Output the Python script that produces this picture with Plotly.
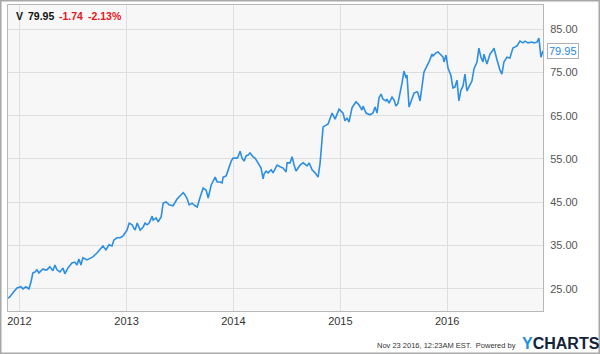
import pandas as pd
import plotly.graph_objects as go

# Decimal-year time stamps and V closing prices
years = [2011.883, 2011.911, 2011.939, 2011.977, 2012.014, 2012.033, 2012.061, 2012.089, 2012.108, 2012.126,
         2012.145, 2012.164, 2012.182, 2012.201, 2012.220, 2012.238, 2012.257, 2012.285, 2012.313, 2012.332,
         2012.351, 2012.379, 2012.407, 2012.425, 2012.453, 2012.491, 2012.519, 2012.538, 2012.556, 2012.575,
         2012.594, 2012.631, 2012.650, 2012.687, 2012.725, 2012.753, 2012.781, 2012.809, 2012.837, 2012.865,
         2012.884, 2012.912, 2012.940, 2012.968, 2013.005, 2013.024, 2013.052, 2013.061, 2013.080, 2013.099,
         2013.127, 2013.155, 2013.173, 2013.192, 2013.211, 2013.239, 2013.248, 2013.276, 2013.295, 2013.323,
         2013.342, 2013.370, 2013.398, 2013.435, 2013.454, 2013.473, 2013.501, 2013.529, 2013.547, 2013.566,
         2013.585, 2013.613, 2013.641, 2013.660, 2013.688, 2013.716, 2013.744, 2013.763, 2013.791, 2013.809,
         2013.828, 2013.847, 2013.875, 2013.893, 2013.903, 2013.931, 2013.950, 2013.978, 2013.996, 2014.034,
         2014.043, 2014.062, 2014.080, 2014.099, 2014.118, 2014.137, 2014.155, 2014.183, 2014.202, 2014.221,
         2014.239, 2014.258, 2014.277, 2014.286, 2014.305, 2014.324, 2014.352, 2014.370, 2014.389, 2014.408,
         2014.436, 2014.464, 2014.492, 2014.501, 2014.529, 2014.548, 2014.567, 2014.585, 2014.604, 2014.623,
         2014.651, 2014.688, 2014.707, 2014.735, 2014.763, 2014.791, 2014.810, 2014.838, 2014.885, 2014.922,
         2014.950, 2014.987, 2015.025, 2015.043, 2015.062, 2015.081, 2015.109, 2015.146, 2015.174, 2015.202,
         2015.212, 2015.240, 2015.277, 2015.305, 2015.324, 2015.343, 2015.361, 2015.380, 2015.399, 2015.427,
         2015.436, 2015.455, 2015.483, 2015.502, 2015.520, 2015.539, 2015.576, 2015.586, 2015.595, 2015.614,
         2015.623, 2015.642, 2015.670, 2015.689, 2015.717, 2015.726, 2015.745, 2015.763, 2015.782, 2015.810,
         2015.829, 2015.857, 2015.866, 2015.894, 2015.913, 2015.941, 2015.960, 2015.969, 2015.988, 2016.007,
         2016.035, 2016.053, 2016.072, 2016.091, 2016.109, 2016.128, 2016.147, 2016.166, 2016.184, 2016.212,
         2016.231, 2016.250, 2016.278, 2016.296, 2016.315, 2016.334, 2016.343, 2016.371, 2016.399, 2016.427,
         2016.437, 2016.465, 2016.493, 2016.511, 2016.530, 2016.558, 2016.586, 2016.614, 2016.652, 2016.680,
         2016.708, 2016.727, 2016.755, 2016.792, 2016.811, 2016.839, 2016.857, 2016.876, 2016.895]
prices = [22.7, 23.2, 24.1, 25.2, 25.5, 25.0, 25.5, 25.0, 26.6, 28.7,
          28.9, 29.4, 28.7, 29.2, 29.6, 29.4, 29.4, 30.1, 29.2, 30.5,
          29.4, 28.9, 29.8, 28.5, 29.8, 31.0, 31.2, 30.5, 31.9, 30.5,
          32.2, 31.7, 31.9, 32.4, 33.3, 34.0, 34.9, 34.0, 35.2, 34.9,
          36.3, 36.8, 36.8, 37.2, 38.6, 40.2, 39.8, 39.3, 38.6, 40.2,
          38.6, 39.3, 40.2, 39.8, 40.2, 41.8, 40.9, 41.4, 40.5, 41.6,
          44.8, 45.1, 44.4, 44.2, 45.1, 45.8, 46.5, 47.2, 46.7, 45.8,
          44.4, 44.8, 44.2, 43.9, 46.2, 48.3, 47.8, 46.0, 49.0, 49.9,
          50.8, 49.7, 49.7, 49.5, 50.8, 51.1, 52.5, 54.5, 55.2, 55.2,
          55.5, 56.8, 55.2, 54.5, 55.7, 55.9, 56.4, 55.5, 55.2, 54.3,
          53.6, 52.9, 50.4, 51.5, 52.2, 51.8, 52.5, 51.8, 52.7, 53.6,
          53.2, 52.9, 52.0, 54.1, 54.1, 55.5, 53.6, 52.2, 52.9, 53.6,
          54.1, 53.4, 54.1, 52.5, 51.8, 50.8, 54.1, 62.4, 63.1, 65.6,
          64.2, 66.5, 65.6, 63.8, 64.5, 63.5, 66.8, 68.2, 67.5, 66.3,
          67.2, 65.6, 65.2, 65.6, 67.0, 65.6, 69.1, 70.0, 68.8, 68.4,
          68.8, 67.9, 69.3, 68.6, 67.2, 67.9, 72.5, 74.8, 75.3, 73.7,
          74.4, 67.0, 69.1, 70.2, 70.5, 70.2, 68.4, 72.1, 75.1, 76.5,
          77.4, 79.2, 78.8, 79.5, 79.7, 79.0, 78.5, 77.4, 79.0, 76.0,
          74.2, 71.4, 71.6, 73.2, 68.4, 70.9, 71.8, 74.6, 70.7, 72.1,
          73.0, 75.8, 77.4, 80.6, 78.5, 77.4, 79.2, 76.9, 79.2, 80.1,
          80.6, 77.9, 75.5, 74.6, 77.4, 78.5, 78.3, 80.6, 81.1, 82.2,
          81.8, 82.2, 81.8, 82.0, 81.8, 82.0, 82.9, 78.5, 79.95]

y_ticks = [25, 35, 45, 55, 65, 75, 85]
x_ticks = ["2012-01-01", "2013-01-01", "2014-01-01", "2015-01-01", "2016-01-01"]
x_labels = ["2012", "2013", "2014", "2015", "2016"]
ticker = "V"
last_price = 79.95
change = -1.74
change_pct = -2.13
stamp = "Nov 23 2016, 12:23AM EST."


def to_date(y):
    base = pd.Timestamp(year=int(y), month=1, day=1)
    return base + pd.Timedelta(days=(y - int(y)) * 365.25)


dates = [to_date(y) for y in years]

W, H = 600, 354
ML, MR, MT, MB = 8, 57, 5, 43
LINE = "#2d8fe3"
FONT = "Liberation Sans, Arial, sans-serif"
pw = W - ML - MR
ph = H - MT - MB

fig = go.Figure()
fig.add_trace(go.Scatter(x=dates, y=prices, mode="lines",
                         line=dict(color=LINE, width=1.6), hoverinfo="skip"))

fig.update_layout(
    width=W, height=H,
    margin=dict(l=ML, r=MR, t=MT, b=MB),
    paper_bgcolor="white", plot_bgcolor="#f7f7f7",
    showlegend=False,
    font=dict(family=FONT, size=11, color="#444"),
    xaxis=dict(type="date", range=["2011-11-23", "2016-11-23"],
               tickvals=x_ticks, ticktext=x_labels,
               showgrid=True, gridcolor="#dedede", gridwidth=1,
               showline=True, mirror=True, linecolor="#b8b8b8", linewidth=1,
               ticks="", zeroline=False,
               tickfont=dict(family=FONT, size=11, color="#333")),
    yaxis=dict(range=[19.9, 90.55], side="right",
               tickvals=y_ticks, tickformat=".2f",
               showgrid=True, gridcolor="#dedede", gridwidth=1,
               showline=True, mirror=True, linecolor="#b8b8b8", linewidth=1,
               ticks="", zeroline=False, ticklabelstandoff=4,
               tickfont=dict(family=FONT, size=11, color="#555")),
)


def px_x(x):
    return (x - ML) / pw


def px_y(y):
    return (H - MB - y) / ph


# outer border of the whole image
fig.add_shape(type="rect", xref="paper", yref="paper",
              x0=px_x(0.5), x1=px_x(W - 0.5), y0=px_y(H - 0.5), y1=px_y(0.5),
              line=dict(color="#a8a8a8", width=2), fillcolor="rgba(0,0,0,0)", layer="above")

# header
header = [(f"<b>{ticker}</b>", 14, "#111"),
          (f"<b>{last_price:.2f}</b>", 26, "#111"),
          (f"<b>{change:.2f}</b>", 57, "#e8141b"),
          (f"<b>{change_pct:.2f}%</b>", 86, "#e8141b")]
for txt, xp, col in header:
    fig.add_annotation(xref="paper", yref="paper", x=px_x(xp), y=px_y(16),
                       xanchor="left", yanchor="middle", showarrow=False, text=txt,
                       font=dict(family=FONT, size=10.5, color=col))

# last price tag
fig.add_annotation(xref="paper", yref="y", x=1, y=last_price, xanchor="left", yanchor="middle",
                   xshift=4, showarrow=False, text=f"{last_price:.2f}",
                   font=dict(family=FONT, size=11, color="#1e88e5"),
                   bgcolor="white", bordercolor="#b0b0b0", borderwidth=1, borderpad=1)

# footer
fig.add_annotation(xref="paper", yref="paper", x=px_x(518), y=px_y(345),
                   xanchor="right", yanchor="middle", showarrow=False,
                   text=f"{stamp}  Powered by", font=dict(family=FONT, size=7.5, color="#333"))
fig.add_annotation(xref="paper", yref="paper", x=px_x(520), y=px_y(343),
                   xanchor="left", yanchor="middle", showarrow=False,
                   text="<b><span style='color:#1d8fe1'>Y</span>CHARTS</b>",
                   font=dict(family=FONT, size=16, color="#14233a"))

fig.write_html("out.html")
